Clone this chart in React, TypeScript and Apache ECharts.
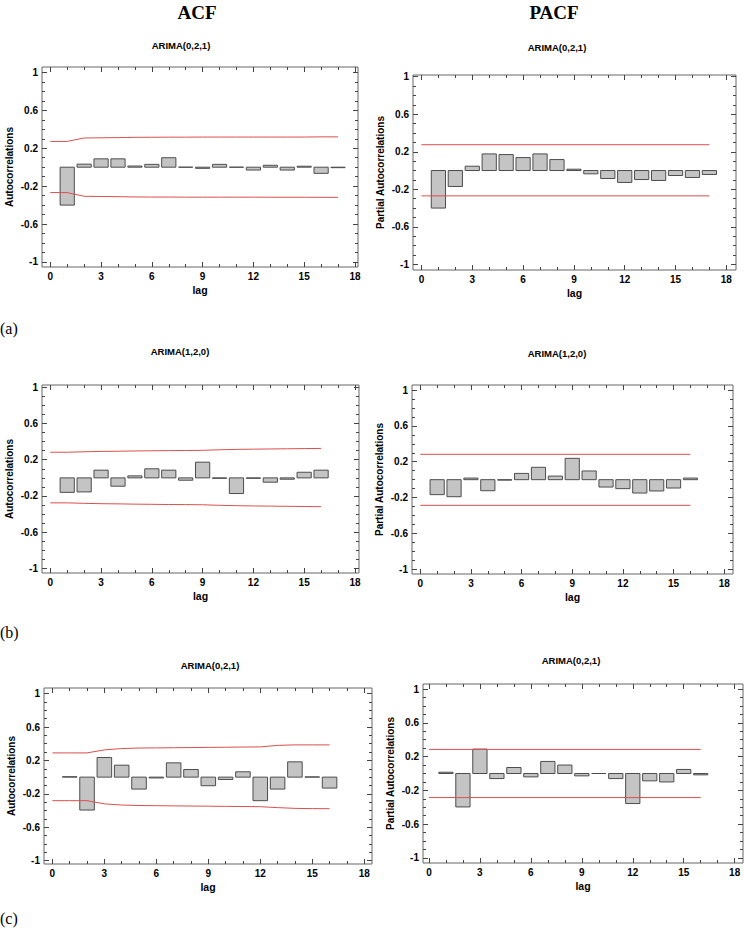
import React, { useEffect, useRef } from "react";
import * as echarts from "echarts";

// ---------- data ----------
const lags17 = [1, 2, 3, 4, 5, 6, 7, 8, 9, 10, 11, 12, 13, 14, 15, 16, 17];
const lags16 = [1, 2, 3, 4, 5, 6, 7, 8, 9, 10, 11, 12, 13, 14, 15, 16];
const boundLags17 = [0, 1, 2, 3, 4, 5, 6, 7, 8, 9, 10, 11, 12, 13, 14, 15, 16, 17];
const boundLags16 = [0, 1, 2, 3, 4, 5, 6, 7, 8, 9, 10, 11, 12, 13, 14, 15, 16];

// (a) ARIMA(0,2,1)
const acfA = [-0.4, 0.032, 0.088, 0.088, 0.012, 0.03, 0.1, 0.0, -0.012, 0.03, 0.0, -0.03, 0.02, -0.03, 0.01, -0.065, -0.005];
const acfAUpper = [0.272, 0.272, 0.308, 0.31, 0.312, 0.315, 0.316, 0.317, 0.317, 0.318, 0.318, 0.318, 0.318, 0.318, 0.318, 0.318, 0.32, 0.32];
const acfALower = [-0.268, -0.268, -0.307, -0.309, -0.311, -0.314, -0.315, -0.315, -0.316, -0.316, -0.316, -0.316, -0.316, -0.317, -0.317, -0.317, -0.318, -0.318];
const pacfA = [-0.4, -0.17, 0.046, 0.177, 0.17, 0.138, 0.177, 0.117, 0.014, -0.035, -0.085, -0.127, -0.096, -0.106, -0.053, -0.074, -0.042];
const pacfALimits = [0.275, -0.27];

// (b) ARIMA(1,2,0)
const acfB = [-0.16, -0.155, 0.085, -0.092, 0.022, 0.1, 0.085, -0.026, 0.173, -0.005, -0.173, -0.005, -0.048, -0.015, 0.062, 0.085];
const acfBUpper = [0.283, 0.283, 0.288, 0.292, 0.294, 0.297, 0.299, 0.301, 0.302, 0.304, 0.31, 0.314, 0.317, 0.319, 0.321, 0.323, 0.325];
const acfBLower = [-0.276, -0.276, -0.281, -0.285, -0.287, -0.29, -0.292, -0.294, -0.295, -0.297, -0.303, -0.307, -0.31, -0.312, -0.314, -0.316, -0.318];
const pacfB = [-0.167, -0.19, 0.018, -0.123, -0.005, 0.07, 0.138, 0.04, 0.238, 0.097, -0.082, -0.1, -0.149, -0.126, -0.093, 0.018];
const pacfBLimits = [0.283, -0.286];

// (c) ARIMA(0,2,1)
const acfC = [0.005, -0.394, 0.235, 0.143, -0.143, -0.01, 0.171, 0.091, -0.103, -0.028, 0.064, -0.282, -0.143, 0.183, 0.003, -0.131];
const acfCUpper = [0.29, 0.29, 0.29, 0.326, 0.342, 0.348, 0.35, 0.352, 0.354, 0.356, 0.358, 0.36, 0.362, 0.38, 0.386, 0.386, 0.386];
const acfCLower = [-0.282, -0.282, -0.282, -0.32, -0.334, -0.34, -0.342, -0.344, -0.346, -0.348, -0.35, -0.352, -0.354, -0.365, -0.374, -0.377, -0.378];
const pacfC = [0.015, -0.396, 0.289, -0.06, 0.071, -0.04, 0.143, 0.1, -0.028, 0.0, -0.06, -0.356, -0.087, -0.1, 0.048, -0.016];
const pacfCLimits = [0.285, -0.285];

// tick labels
const yMajorTicks = [-1, -0.6, -0.2, 0.2, 0.6, 1];
const yMinorTicks = [-1, -0.9, -0.8, -0.7, -0.6, -0.5, -0.4, -0.3, -0.2, -0.1, 0, 0.1, 0.2, 0.3, 0.4, 0.5, 0.6, 0.7, 0.8, 0.9, 1];
const xMajorTicks = [0, 3, 6, 9, 12, 15, 18];
const xMinorTicks = [0, 1, 2, 3, 4, 5, 6, 7, 8, 9, 10, 11, 12, 13, 14, 15, 16, 17, 18];

const columnHeaders = ["ACF", "PACF"];
const rowLabels = ["(a)", "(b)", "(c)"];

// ---------- layout / style ----------
const SANS = "'Liberation Sans Narrow', 'Arial Narrow', 'Liberation Sans', Arial, sans-serif";
const SERIF = "'Liberation Serif', 'Times New Roman', serif";
const FRAME = "#666";
const TICK = "#444";
const RED = "#dc4f4f";
const BAR_FILL = "#c4c4c4";
const BAR_STROKE = "#4d4d4d";

const zip = (xs: number[], ys: number[]) => xs.map((x, i) => [x, ys[i]]);
const flat = (v: number, last: number) => [[0, v], [last, v]];

const panels = [
  { title: "ARIMA(0,2,1)", yName: "Autocorrelations", lags: lags17, values: acfA,
    upper: zip(boundLags17, acfAUpper), lower: zip(boundLags17, acfALower),
    box: { l: 42, t: 67, r: 358, b: 267 }, xr: [-0.49, 18.18], yr: [-1.053, 1.057], tp: [181, 45] },
  { title: "ARIMA(0,2,1)", yName: "Partial Autocorrelations", lags: lags17, values: pacfA,
    upper: flat(pacfALimits[0], 17), lower: flat(pacfALimits[1], 17),
    box: { l: 413, t: 75, r: 736, b: 270 }, xr: [-0.5, 18.57], yr: [-1.06, 1.018], tp: [557, 47] },
  { title: "ARIMA(1,2,0)", yName: "Autocorrelations", lags: lags16, values: acfB,
    upper: zip(boundLags16, acfBUpper), lower: zip(boundLags16, acfBLower),
    box: { l: 42, t: 385, r: 359, b: 573 }, xr: [-0.49, 18.24], yr: [-1.05, 1.025], tp: [180, 351] },
  { title: "ARIMA(1,2,0)", yName: "Partial Autocorrelations", lags: lags16, values: pacfB,
    upper: flat(pacfBLimits[0], 16), lower: flat(pacfBLimits[1], 16),
    box: { l: 412, t: 385, r: 733, b: 574 }, xr: [-0.49, 18.52], yr: [-1.052, 1.056], tp: [557, 353] },
  { title: "ARIMA(0,2,1)", yName: "Autocorrelations", lags: lags16, values: acfC,
    upper: zip(boundLags16, acfCUpper), lower: zip(boundLags16, acfCLower),
    box: { l: 44, t: 688, r: 372, b: 864 }, xr: [-0.485, 18.45], yr: [-1.04, 1.067], tp: [210, 665] },
  { title: "ARIMA(0,2,1)", yName: "Partial Autocorrelations", lags: lags16, values: pacfC,
    upper: flat(pacfCLimits[0], 16), lower: flat(pacfCLimits[1], 16),
    box: { l: 423, t: 684, r: 743, b: 863 }, xr: [-0.35, 18.49], yr: [-1.06, 1.06], tp: [571, 660] },
];

function buildOption() {
  const grid: any[] = [];
  const xAxis: any[] = [];
  const yAxis: any[] = [];
  const series: any[] = [];
  const graphic: any[] = [];

  const labelStyle = { fontSize: 10, fontWeight: "bold", fontFamily: SANS, color: "#000" };

  panels.forEach((p, i) => {
    grid.push({
      left: p.box.l, top: p.box.t, width: p.box.r - p.box.l, height: p.box.b - p.box.t,
      show: true, borderColor: FRAME, borderWidth: 1, backgroundColor: "transparent",
    });
    const xi = xAxis.length;
    const yi = yAxis.length;
    const mkX = (position: string, ticks: number[], len: number, labels: boolean, name?: string) => ({
      type: "value", gridIndex: i, position, min: p.xr[0], max: p.xr[1],
      axisLine: { show: false, onZero: false },
      splitLine: { show: false },
      axisTick: { show: true, inside: true, length: len, customValues: ticks, lineStyle: { color: TICK, width: 1 } },
      axisLabel: labels ? { show: true, customValues: ticks, margin: 4, ...labelStyle } : { show: false },
      name: name || "", nameLocation: "middle", nameGap: 17,
      nameTextStyle: { fontSize: 10.5, fontWeight: "bold", fontFamily: SANS, color: "#000" },
    });
    const mkY = (position: string, ticks: number[], len: number, labels: boolean, name?: string) => ({
      type: "value", gridIndex: i, position, min: p.yr[0], max: p.yr[1],
      axisLine: { show: false, onZero: false },
      splitLine: { show: false },
      axisTick: { show: true, inside: true, length: len, customValues: ticks, lineStyle: { color: TICK, width: 1 } },
      axisLabel: labels ? { show: true, customValues: ticks, margin: 4, ...labelStyle } : { show: false },
      name: name || "", nameLocation: "middle", nameGap: 28, nameRotate: 90,
      nameTextStyle: { fontSize: 10, fontWeight: "bold", fontFamily: SANS, color: "#000" },
    });
    xAxis.push(
      mkX("bottom", xMajorTicks, 5, true, "lag"),
      mkX("bottom", xMinorTicks, 3, false),
      mkX("top", xMajorTicks, 5, false),
      mkX("top", xMinorTicks, 3, false)
    );
    yAxis.push(
      mkY("left", yMajorTicks, 5, true, p.yName),
      mkY("left", yMinorTicks, 3, false),
      mkY("right", yMajorTicks, 5, false),
      mkY("right", yMinorTicks, 3, false)
    );

    series.push({
      type: "custom",
      xAxisIndex: xi, yAxisIndex: yi,
      encode: { x: 0, y: 1 },
      data: zip(p.lags, p.values),
      z: 2,
      renderItem: (params: any, api: any) => {
        const lag = api.value(0);
        const v = api.value(1);
        const a = api.coord([lag - 0.42, v]);
        const b = api.coord([lag + 0.42, 0]);
        return {
          type: "rect",
          shape: { x: a[0], y: Math.min(a[1], b[1]), width: b[0] - a[0], height: Math.abs(b[1] - a[1]) },
          style: { fill: BAR_FILL, stroke: BAR_STROKE, lineWidth: 1 },
        };
      },
    });
    [p.upper, p.lower].forEach((d) => {
      series.push({
        type: "line", xAxisIndex: xi, yAxisIndex: yi, data: d, symbol: "none", z: 5,
        color: RED, itemStyle: { color: RED },
        lineStyle: { color: RED, width: 1 }, silent: true,
      });
    });

    graphic.push({
      type: "text", x: p.tp[0], y: p.tp[1],
      style: {
        text: p.title, font: `bold 9.5px ${SANS}`, fill: "#000",
        align: "center", verticalAlign: "middle", textAlign: "center", textVerticalAlign: "middle",
      },
    });
  });

  const headerPos = [[197, 12], [554, 12]];
  columnHeaders.forEach((h, i) => {
    graphic.push({
      type: "text", x: headerPos[i][0], y: headerPos[i][1],
      style: {
        text: h, font: `bold 19px ${SERIF}`, fill: "#000",
        align: "center", verticalAlign: "middle", textAlign: "center", textVerticalAlign: "middle",
      },
    });
  });
  const rowY = [328, 632, 918];
  rowLabels.forEach((r, i) => {
    graphic.push({
      type: "text", x: 0, y: rowY[i],
      style: {
        text: r, font: `16px ${SERIF}`, fill: "#000",
        align: "left", verticalAlign: "middle", textAlign: "left", textVerticalAlign: "middle",
      },
    });
  });

  return { animation: false, backgroundColor: "#fff", grid, xAxis, yAxis, series, graphic };
}

export default function App() {
  const ref = useRef<HTMLDivElement>(null);
  useEffect(() => {
    if (!ref.current) return;
    const chart = echarts.init(ref.current, undefined, { renderer: "svg" });
    chart.setOption(buildOption() as any);
    return () => chart.dispose();
  }, []);
  return (
    <div
      ref={ref}
      style={{ position: "absolute", left: 0, top: 0, width: 744, height: 930, background: "#fff" }}
    />
  );
}
